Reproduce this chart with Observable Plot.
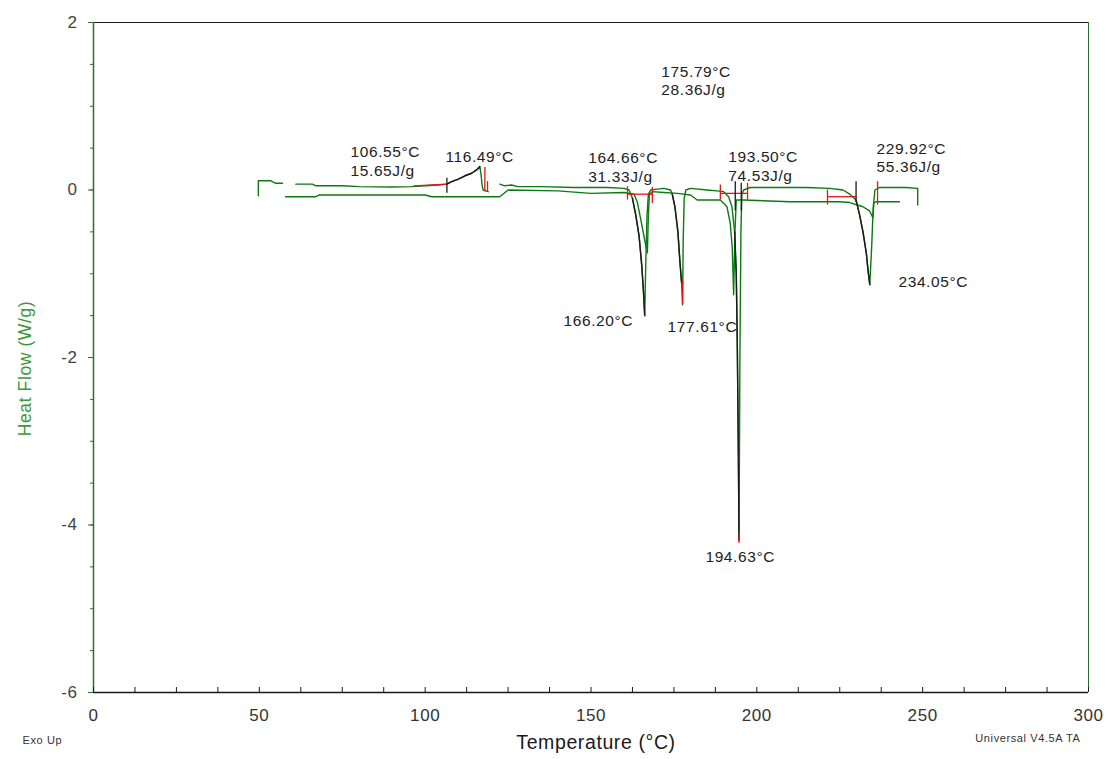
<!DOCTYPE html>
<html>
<head>
<meta charset="utf-8">
<script src="https://cdn.jsdelivr.net/npm/d3@7"></script>
<script src="https://cdn.jsdelivr.net/npm/@observablehq/plot@0.6"></script>
<style>
  body { margin: 0; background: #fff; }
  svg { display: block; }
  svg text { letter-spacing: 0.6px; }
</style>
</head>
<body>
<div id="chart"></div>
<script>
// DSC thermogram: heat flow (W/g) against temperature (°C), exo up.

const xTicks = [0, 50, 100, 150, 200, 250, 300];
const xMinor = [0, 12.5, 25, 37.5, 50, 62.5, 75, 87.5, 100, 112.5, 125, 137.5, 150,
                162.5, 175, 187.5, 200, 212.5, 225, 237.5, 250, 262.5, 275, 287.5, 300];
const yTicks = [2, 0, -2, -4, -6];
const yMinor = [2, 1.5, 1, 0.5, 0, -0.5, -1, -1.5, -2, -2.5, -3, -3.5, -4, -4.5, -5, -5.5, -6];

// First heating run [temperature, heat flow]; null breaks the trace
const runA = [
  [49.7, -0.07], [49.7, 0.11], [53.5, 0.11], [55, 0.08], [57, 0.08], [58, null],
  [61, 0.07], [66, 0.07], [67, 0.05], [75, 0.05], [80, 0.04], [90, 0.035], [96, 0.04],
  [100, 0.05], [104, 0.06], [106.55, 0.07], [108, 0.10], [110, 0.13], [112, 0.17],
  [114, 0.20], [115.5, 0.24], [116.49, 0.28], [116.8, 0.20], [117.2, 0.05], [117.5, 0.0],
  [119, -0.02], [120, null],
  [122.5, 0.07], [124, 0.05], [126, 0.06], [128, 0.04], [135, 0.04], [145, 0.03],
  [155, 0.03], [160, 0.02], [161.5, 0.0], [162.5, -0.1], [163.5, -0.3], [164.5, -0.55],
  [165.3, -0.9], [165.8, -1.2], [166.2, -1.5], [166.5, -0.9], [166.9, -0.3], [167.3, -0.05],
  [168, 0.0], [170, 0.01], [172, 0.02], [174, 0.0], [174.5, -0.05], [175.3, -0.2],
  [176.2, -0.5], [176.8, -0.85], [177.3, -1.1], [177.61, -1.37], [177.8, -0.6], [178.1, -0.1],
  [178.6, 0.0], [180, 0.02], [185, 0.0], [188, -0.01], [190, -0.02], [191.5, -0.08],
  [192.5, -0.2], [193.3, -0.5], [193.8, -1.0], [194.1, -1.8], [194.4, -3.0], [194.63, -4.18],
  [194.9, -2.0], [195.2, -0.5], [195.5, -0.05], [196, 0.0], [198, 0.03], [205, 0.03],
  [215, 0.03], [222, 0.02], [226, 0.0], [228, -0.05], [229.92, -0.12], [231, -0.3],
  [232, -0.5], [233, -0.75], [233.5, -0.95], [234.05, -1.13], [234.6, -0.7], [235.1, -0.2],
  [235.6, 0.0], [237, 0.03], [245, 0.03], [248.5, 0.02], [248.5, -0.18]
];

// Second run, offset slightly below the first
const runB = [
  [57.9, -0.08], [67, -0.08], [68, -0.06], [100, -0.06], [102, -0.08], [120, -0.08],
  [122.5, -0.08], [125, 0.0], [140, -0.01], [150, -0.04], [160, -0.03], [163, -0.05],
  [164, -0.15], [165, -0.35], [166.2, -0.6], [167, -0.75], [167.3, -0.3], [167.6, -0.05],
  [168.5, -0.02], [172, -0.03], [176, -0.04], [180, -0.06], [182, -0.12], [189, -0.12],
  [191, -0.2], [192, -0.4], [192.6, -0.7], [193, -1.25], [193.4, -0.5], [193.8, -0.12],
  [196, -0.12], [210, -0.14], [225, -0.14], [228, -0.15], [232, -0.2], [234, -0.25],
  [235, -0.33], [235.3, -0.15], [236, -0.14], [243, -0.14]
];

// Integrated transitions: [onset, peak]
const peakRanges = [[106.55, 116.49], [162.5, 166.2], [174.5, 177.3], [193.3, 194.63], [229.92, 234.05]];

// Integration limits [temperature, top, bottom]
const redLimits = [
  [118.0, 0.27, -0.02], [118.8, 0.10, -0.02], [161.0, 0.04, -0.12], [168.5, 0.03, -0.16],
  [189.0, 0.06, -0.12], [197.2, 0.08, -0.12], [221.3, 0.0, -0.18], [236.4, 0.10, -0.18],
  [177.61, -1.07, -1.37], [194.63, -4.10, -4.22]
];
// Integration baselines [t1, v1, t2, v2]
const redBaselines = [
  [96.5, 0.05, 106.55, 0.07], [161.0, -0.05, 168.5, -0.05],
  [189.0, -0.04, 197.2, -0.04], [221.3, -0.08, 230.0, -0.08]
];
// Onset markers [temperature, top, bottom]
const onsetMarks = [
  [106.55, 0.14, -0.04], [193.5, 0.10, -0.25], [195.3, 0.08, -0.25], [229.92, 0.10, -0.15]
];

// Peak / onset / enthalpy annotations [text, temperature, heat flow]
const annotations = [
  ["106.55°C", 77.5, 0.45], ["15.65J/g", 77.5, 0.23],
  ["116.49°C", 106.1, 0.39],
  ["175.79°C", 171.2, 1.41], ["28.36J/g", 171.2, 1.19],
  ["164.66°C", 149.2, 0.38], ["31.33J/g", 149.2, 0.16],
  ["193.50°C", 191.4, 0.39], ["74.53J/g", 191.4, 0.17],
  ["229.92°C", 236.1, 0.49], ["55.36J/g", 236.1, 0.27],
  ["166.20°C", 141.7, -1.56],
  ["177.61°C", 173.1, -1.64],
  ["194.63°C", 184.5, -4.38],
  ["234.05°C", 242.7, -1.10]
];

const green = "#0b7a12";
const axisGreen = "#2f6b33";
const red = "#e0181a";
const ink = "#1a1a1a";

const rowsA = runA.map(([t, v]) => ({t, v}));
const rowsB = runB.map(([t, v]) => ({t, v}));
const peakRows = peakRanges.flatMap(([a, b], i) =>
  runA.filter(([t, v]) => v != null && t >= a && t <= b).map(([t, v]) => ({t, v, seg: i})));

const frameH = 759 - 22 - 67;

const chart = Plot.plot({
  width: 1108,
  height: 759,
  marginLeft: 93,
  marginRight: 20,
  marginTop: 22,
  marginBottom: 67,
  style: {fontFamily: "'Liberation Sans', Arial, sans-serif", background: "#fff", color: "#333"},
  x: {domain: [0, 300]},
  y: {domain: [-6, 2]},
  marks: [
    // frame
    Plot.ruleY([2], {stroke: ink}),
    Plot.ruleY([-6], {stroke: ink, strokeWidth: 1.3}),
    Plot.ruleX([300], {stroke: axisGreen}),
    Plot.ruleX([0], {stroke: axisGreen, strokeWidth: 1.5}),
    // axes
    Plot.tickX(xMinor, {x: d => d, insetTop: frameH - 5, stroke: ink}),
    Plot.axisX(xTicks, {tickSize: 0, tickPadding: 16, fontSize: 17, fill: "#333", label: null, tickFormat: d => String(d)}),
    Plot.axisY(yMinor, {tickSize: 3, stroke: axisGreen, tickFormat: () => "", label: null}),
    Plot.axisY(yTicks, {tickSize: 5, tickPadding: 11, stroke: axisGreen, fill: "#444", fontSize: 17, label: null, tickFormat: d => String(d)}),
    // traces
    Plot.line(rowsB, {x: "t", y: "v", stroke: green, strokeWidth: 1.4}),
    Plot.line(rowsA, {x: "t", y: "v", stroke: green, strokeWidth: 1.4}),
    Plot.line(peakRows, {x: "t", y: "v", z: "seg", stroke: ink, strokeWidth: 1.4}),
    // integration limits and baselines
    Plot.link(redBaselines, {x1: d => d[0], y1: d => d[1], x2: d => d[2], y2: d => d[3], stroke: red, strokeWidth: 1.3}),
    Plot.ruleX(redLimits, {x: d => d[0], y1: d => d[1], y2: d => d[2], stroke: red, strokeWidth: 1.3}),
    Plot.ruleX(onsetMarks, {x: d => d[0], y1: d => d[1], y2: d => d[2], stroke: ink, strokeWidth: 1.3}),
    // annotations
    Plot.text(annotations, {x: d => d[1], y: d => d[2], text: d => d[0], textAnchor: "start", fontSize: 15.5, fill: "#222"}),
    // axis titles and footers
    Plot.text(["Temperature (°C)"], {frameAnchor: "bottom", dx: 5, dy: 56, fontSize: 19.5, fill: ink}),
    Plot.text(["Heat Flow (W/g)"], {frameAnchor: "left", textAnchor: "middle", dx: -68, dy: 11, rotate: -90, fontSize: 17.5, fill: "#3a9a3a"}),
    Plot.text(["Exo Up"], {frameAnchor: "bottom-left", dx: -71, dy: 51, textAnchor: "start", fontSize: 11, fill: "#333"}),
    Plot.text(["Universal V4.5A TA"], {frameAnchor: "bottom-right", dx: -8, dy: 49, textAnchor: "end", fontSize: 11, fill: "#333"})
  ]
});

document.getElementById("chart").append(chart);
</script>
</body>
</html>
